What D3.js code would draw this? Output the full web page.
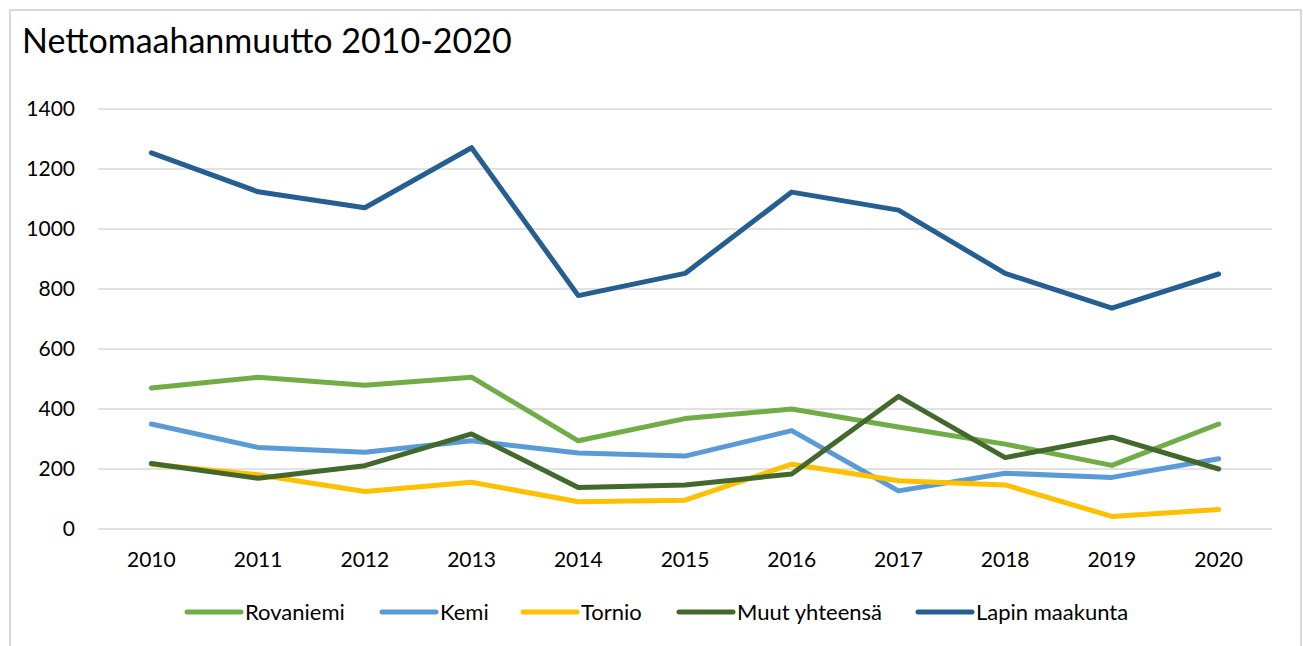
<!DOCTYPE html>
<html><head><meta charset="utf-8">
<script src="https://cdn.jsdelivr.net/npm/d3@7"></script>
<style>body{margin:0;background:#fff}svg{display:block}text{font-family:Lato,"Open Sans",sans-serif;fill:#000}</style>
</head><body>
<script>
const years = ["2010","2011","2012","2013","2014","2015","2016","2017","2018","2019","2020"];
const seriesNames = ["Rovaniemi","Kemi","Tornio","Muut yhteensä","Lapin maakunta"];
const rovaniemi = [470,506,479,506,294,368,400,340,283,212,350];
const kemi = [350,272,256,294,253,243,328,127,186,172,234];
const tornio = [216,181,125,156,91,96,216,161,147,42,65];
const muut = [218,169,211,317,138,147,183,442,238,306,200];
const lapin = [1254,1124,1071,1271,778,852,1123,1063,852,736,850];
const yTicks = [0,200,400,600,800,1000,1200,1400];
const colors = ["#70AD47","#5B9BD5","#FFC000","#43682B","#255E91"];
const allValues = [rovaniemi,kemi,tornio,muut,lapin];

const W=1303,H=646;
const svg=d3.select("body").append("svg").attr("width",W).attr("height",H);
svg.append("rect").attr("x",10).attr("y",10).attr("width",1291).attr("height",H).attr("fill","#fff").attr("stroke","#d9d9d9").attr("stroke-width",2);
svg.append("text").attr("x",22).attr("y",53).attr("font-size",34).text("Nettomaahanmuutto 2010-2020");

const x=d3.scaleBand().domain(years).range([98,1272]);
const y=d3.scaleLinear().domain([0,1400]).range([529,109]);

const g=svg.append("g");
g.selectAll("line.grid").data(yTicks).join("line").attr("x1",98).attr("x2",1272)
 .attr("y1",d=>y(d)).attr("y2",d=>y(d)).attr("stroke","#d9d9d9").attr("stroke-width",1.5);

const ya=svg.append("g").attr("transform","translate(98,0)").call(d3.axisLeft(y).tickValues(yTicks).tickSize(0).tickPadding(23).tickFormat(d3.format("d")));
ya.select(".domain").remove();
ya.selectAll("text").attr("font-size",21).attr("font-family","Lato,'Open Sans',sans-serif").attr("fill","#000");

const xa=svg.append("g").attr("transform","translate(0,529)").call(d3.axisBottom(x).tickSize(0).tickPadding(23));
xa.select(".domain").remove();
xa.selectAll("text").attr("font-size",21).attr("font-family","Lato,'Open Sans',sans-serif").attr("fill","#000");

const line=d3.line().x((d,i)=>x(years[i])+x.bandwidth()/2).y(d=>y(d));
allValues.forEach((vals,k)=>{
  svg.append("path").datum(vals).attr("d",line).attr("fill","none").attr("stroke",colors[k])
   .attr("stroke-width",5).attr("stroke-linejoin","round").attr("stroke-linecap","round");
});

const legX=[187,382,523,679,918];
const leg=svg.append("g");
seriesNames.forEach((n,k)=>{
  leg.append("line").attr("x1",legX[k]).attr("x2",legX[k]+54).attr("y1",612).attr("y2",612)
   .attr("stroke",colors[k]).attr("stroke-width",5).attr("stroke-linecap","round");
  leg.append("text").attr("x",legX[k]+58).attr("y",620).attr("font-size",22).text(n);
});
</script>
</body></html>
